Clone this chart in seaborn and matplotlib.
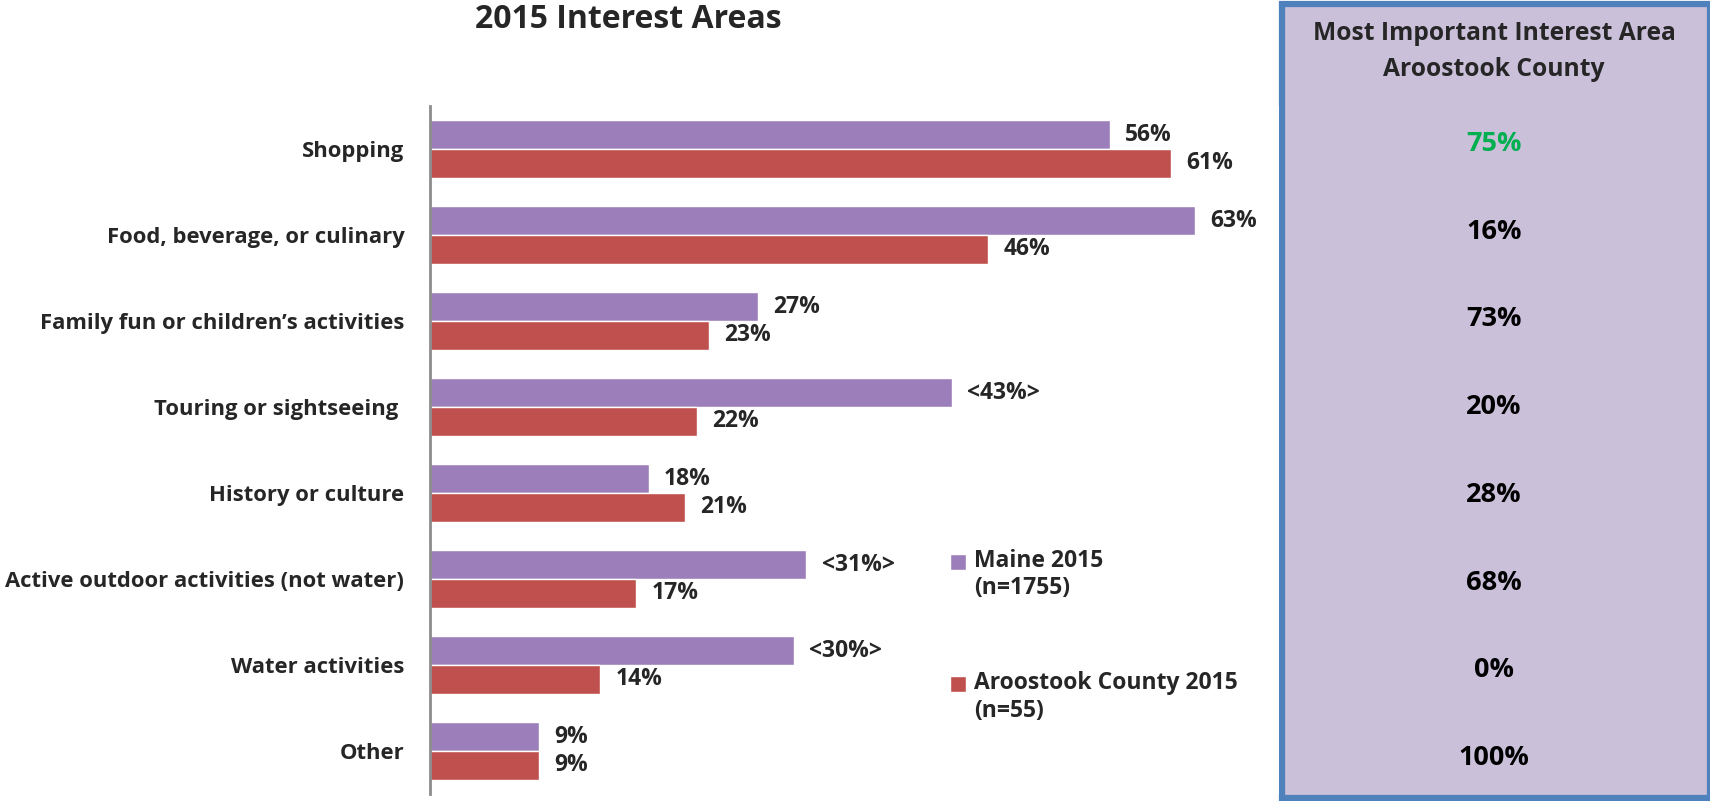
import pandas as pd
import matplotlib.pyplot as plt
from matplotlib.patches import Rectangle
import seaborn as sns

categories = ['Shopping', 'Food, beverage, or culinary', 'Family fun or children\u2019s activities',
              'Touring or sightseeing ', 'History or culture', 'Active outdoor activities (not water)',
              'Water activities', 'Other']
maine = [56, 63, 27, 43, 18, 31, 30, 9]
aroostook = [61, 46, 23, 22, 21, 17, 14, 9]
maine_labels = ['56%', '63%', '27%', '<43%>', '18%', '<31%>', '<30%>', '9%']
aroostook_labels = ['61%', '46%', '23%', '22%', '21%', '17%', '14%', '9%']
most_important = ['75%', '16%', '73%', '20%', '28%', '68%', '0%', '100%']
series_names = ['Maine 2015\n(n=1755)', 'Aroostook County 2015\n(n=55)']

sns.set_style('white')
plt.rcParams['font.family'] = ['Open Sans', 'DejaVu Sans']
plt.rcParams['font.weight'] = 'bold'
FS = 15.8

df = pd.DataFrame({'Category': categories * 2,
                   'Value': maine + aroostook,
                   'Series': [series_names[0]] * 8 + [series_names[1]] * 8})

W, H = 1710, 801
fig = plt.figure(figsize=(W / 100, H / 100), dpi=100)
ax = fig.add_axes([430 / W, 1 - 794 / H, (1279 - 430) / W, (794 - 106) / H])

sns.barplot(data=df, y='Category', x='Value', hue='Series', orient='h',
            palette=['#9C7EBA', '#C0504D'], width=0.674, ax=ax, saturation=1)

ax.set_xlim(0, (1279 - 430) / 12.14)
ax.set_xlabel('')
ax.set_ylabel('')
ax.set_xticks([])
for s in ['top', 'right', 'bottom']:
    ax.spines[s].set_visible(False)
ax.spines['left'].set_color('#8C8C8C')
ax.spines['left'].set_linewidth(2)
ax.tick_params(axis='y', length=0, pad=18.5, labelsize=FS)
for t in ax.get_yticklabels():
    t.set_fontweight('bold')

ax.bar_label(ax.containers[0], labels=maine_labels, padding=11, fontsize=16.5, fontweight='bold')
ax.bar_label(ax.containers[1], labels=aroostook_labels, padding=11, fontsize=16.5, fontweight='bold')

handles, labels = ax.get_legend_handles_labels()
leg = ax.legend(handles, labels, loc='upper left', bbox_to_anchor=(929 / W, 1 - 528 / H),
                bbox_transform=fig.transFigure, frameon=False, fontsize=16.5,
                handlelength=0.7, handleheight=0.7, handletextpad=0.35, labelspacing=3.1)
# put the square next to the first line of each label
for h in leg.legend_handles:
    h.set_y(h.get_y() + 0.6 * 16.5)

fig.text(628 / W, 1 - 20 / H, '2015 Interest Areas', ha='center', va='center',
         fontsize=23, fontweight='bold')

# right panel
fig.patches.append(Rectangle((1282 / W, 3 / H), (1710 - 1282) / W, (797 - 3) / H,
                             transform=fig.transFigure, facecolor='#CBC0DA',
                             edgecolor='#4F81BD', linewidth=4.5, zorder=-1))
fig.text(1494 / W, 1 - 33 / H, 'Most Important Interest Area', ha='center', va='center',
         fontsize=17.7, fontweight='bold')
fig.text(1494 / W, 1 - 69 / H, 'Aroostook County', ha='center', va='center',
         fontsize=17.7, fontweight='bold')
for i, v in enumerate(most_important):
    fig.text(1494 / W, 1 - (144 + i * 87.7) / H, v, ha='center', va='center',
             fontsize=19.5, fontweight='bold', color='#00B050' if i == 0 else 'black')

plt.savefig('out.png', dpi=100)
